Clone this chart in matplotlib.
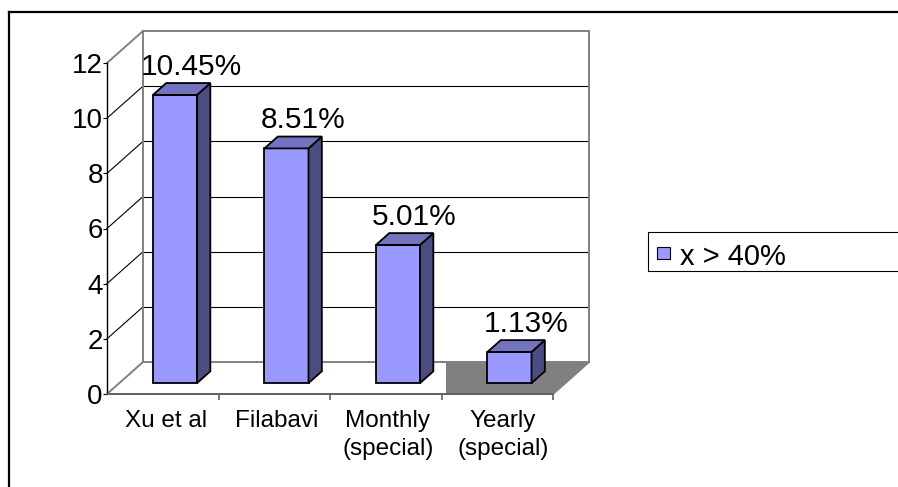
import matplotlib.pyplot as plt
from matplotlib.patches import Polygon, Rectangle

plt.rcParams['font.family'] = ['Liberation Sans', 'DejaVu Sans']

# data
categories = ['Xu et al', 'Filabavi', 'Monthly\n(special)', 'Yearly\n(special)']
values = [10.45, 8.51, 5.01, 1.13]
value_labels = ['10.45%', '8.51%', '5.01%', '1.13%']
yticks = [0, 2, 4, 6, 8, 10, 12]
series_name = 'x > 40%'

W, H = 898, 487
fig = plt.figure(figsize=(W / 100, H / 100), dpi=100)

# front plot area in pixels: x 107..553, y 394 (0) .. 63 (12)
ax = fig.add_axes([107 / W, (H - 394) / H, (553 - 107) / W, (394 - 63) / H])
ax.set_xlim(0, 4)
ax.set_ylim(0, 12)

# depth of the 3d box in data units
DX = 36 / 111.5
DY = 32 / 27.6
grey = '#808080'

# back wall + side wall grid
for v in yticks:
    col = grey if v in (0, 12) else 'black'
    lw = 1.4 if v in (0, 12) else 0.8
    ax.plot([DX, 4 + DX], [v + DY, v + DY], color=col, lw=lw, clip_on=False, zorder=1)
    ax.plot([0, DX], [v, v + DY], color=col, lw=lw, clip_on=False, zorder=1)
ax.plot([DX, DX], [DY, 12 + DY], color=grey, lw=1.4, clip_on=False, zorder=1)
ax.plot([4 + DX, 4 + DX], [DY, 12 + DY], color=grey, lw=1.4, clip_on=False, zorder=1)

# grey floor patch under last category
ax.add_patch(Polygon([(3.04, 0), (4, 0), (4 + DX, DY), (3.04, DY)], closed=True,
                     facecolor=grey, edgecolor='none', clip_on=False, zorder=2))
ax.plot([4, 4 + DX], [0, DY], color=grey, lw=1.4, clip_on=False, zorder=3)

# bars
f0, f = 0.34, 0.37
bw = 0.395
bdx, bdy = f * DX, f * DY
for i, v in enumerate(values):
    x0 = i + 0.5 - bw / 2 + f0 * DX
    y0 = f0 * DY
    kw = dict(closed=True, edgecolor='black', lw=1.3, clip_on=False, zorder=5,
              joinstyle='miter')
    ax.add_patch(Polygon([(x0, y0), (x0 + bw, y0), (x0 + bw, y0 + v), (x0, y0 + v)],
                         facecolor='#9999ff', **kw))
    ax.add_patch(Polygon([(x0 + bw, y0), (x0 + bw + bdx, y0 + bdy),
                          (x0 + bw + bdx, y0 + v + bdy), (x0 + bw, y0 + v)],
                         facecolor='#4c4c80', **kw))
    ax.add_patch(Polygon([(x0, y0 + v), (x0 + bw, y0 + v),
                          (x0 + bw + bdx, y0 + v + bdy), (x0 + bdx, y0 + v + bdy)],
                         facecolor='#7373bf', **kw))
    ax.text(x0 + bw / 2 + bdx + 0.03, y0 + v + bdy + 0.3, value_labels[i],
            ha='center', va='baseline', fontsize=21.5, zorder=6)

# category labels
label_x = [0.53, 1.52, 2.52, 3.55]
for xc, lab in zip(label_x, categories):
    ax.text(xc, -0.58, lab, ha='center', va='top', fontsize=17.5,
            linespacing=1.35, multialignment='center')

# axes
for s in ['top', 'right']:
    ax.spines[s].set_visible(False)
ax.spines['left'].set_color('black')
ax.spines['left'].set_linewidth(1.0)
ax.spines['bottom'].set_color('#606060')
ax.spines['bottom'].set_linewidth(1.4)
ax.spines['left'].set_zorder(4)
ax.spines['bottom'].set_zorder(4)
ax.set_yticks(yticks)
ax.set_yticklabels([str(t) for t in yticks])
ax.tick_params(axis='y', direction='out', length=3, width=0.8, pad=0, labelsize=20)
ax.set_xticks([1, 2, 3, 4])
ax.set_xticklabels([])
ax.tick_params(axis='x', direction='out', length=4, width=1.2, color='#606060')
ax.patch.set_alpha(0)

# overlay in pixel coords for the outer frame and the legend
ov = fig.add_axes([0, 0, 1, 1], zorder=-1)
ov.set_xlim(0, W)
ov.set_ylim(H, 0)
ov.axis('off')
ov.plot([9, 9], [H + 5, 12], color='black', lw=1.6)
ov.plot([9, W + 5], [12, 12], color='black', lw=1.6)

lg = fig.add_axes([0, 0, 1, 1], zorder=10)
lg.set_xlim(0, W)
lg.set_ylim(H, 0)
lg.axis('off')
lg.add_patch(Rectangle((648, 232), 260, 39, facecolor='white', edgecolor='black',
                       lw=0.8, clip_on=True))
lg.add_patch(Rectangle((657, 247), 13, 12, facecolor='#9999ff', edgecolor='black',
                       lw=0.8))
lg.text(680, 265, series_name, ha='left', va='baseline', fontsize=21)

fig.savefig('out.png', dpi=100)
